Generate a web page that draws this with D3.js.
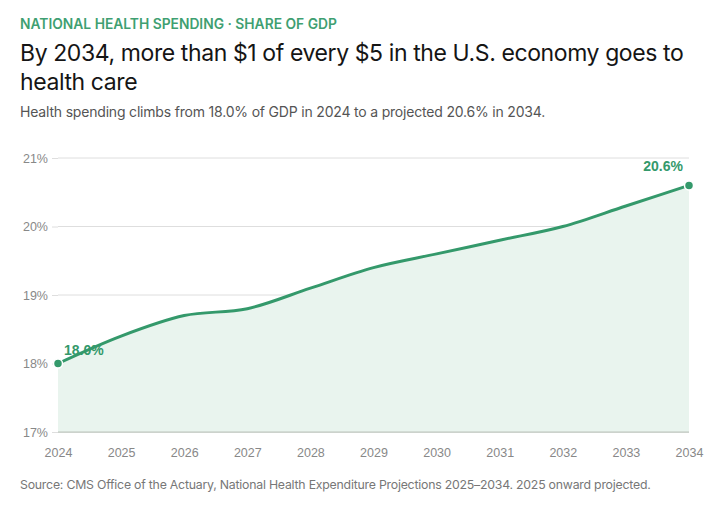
<!DOCTYPE html>
<html><head><meta charset="utf-8">
<script src="https://cdn.jsdelivr.net/npm/d3@7"></script>
<style>
body{margin:0;background:#fff;}
svg{display:block;}
</style></head>
<body><svg id="c" width="725" height="509"></svg>
<script>
const years = [2024,2025,2026,2027,2028,2029,2030,2031,2032,2033,2034];
const shareOfGdp = [18.0,18.4,18.7,18.8,19.1,19.4,19.6,19.8,20.0,20.3,20.6];
const yTicks = [17,18,19,20,21];

const green = "#34996b";
const svg = d3.select("#c");
const margin = {left:58, right:36, top:158, bottom:77};
const W = 725, H = 509;
const x = d3.scaleLinear().domain([2024,2034]).range([margin.left, W - margin.right]);
const y = d3.scaleLinear().domain([17,21]).range([H - margin.bottom, margin.top]);
const data = years.map((yr,i)=>({yr, v:shareOfGdp[i]}));

const sans = "'Inter','Roboto','Noto Sans',sans-serif";
const arial = "'Liberation Sans',Arial,sans-serif";

svg.append("text").attr("x",20).attr("y",29).text("NATIONAL HEALTH SPENDING · SHARE OF GDP")
  .attr("font-family",sans).attr("font-size",13.8).attr("font-weight",600).attr("fill","#3f9f72");
const t = svg.append("text").attr("font-family",sans).attr("font-size",23).attr("letter-spacing",-0.4).attr("fill","#151515").attr("font-weight",400);
t.append("tspan").attr("x",20).attr("y",61).text("By 2034, more than $1 of every $5 in the U.S. economy goes to");
t.append("tspan").attr("x",20).attr("y",90).text("health care");
svg.append("text").attr("x",20).attr("y",117).text("Health spending climbs from 18.0% of GDP in 2024 to a projected 20.6% in 2034.")
  .attr("font-family",sans).attr("font-size",14).attr("letter-spacing",-0.19).attr("fill","#555");

// grid
const g = svg.append("g");
g.selectAll("line.grid").data(yTicks).join("line")
  .attr("x1",x(2024)).attr("x2",x(2034)).attr("y1",d=>y(d)).attr("y2",d=>y(d))
  .attr("stroke",d=>d===17?"#bcc4bc":"#dedede").attr("stroke-width",1);
// y axis
const ya = svg.append("g").attr("transform",`translate(${x(2024)},0)`)
  .call(d3.axisLeft(y).tickValues(yTicks).tickSize(6).tickPadding(4).tickFormat(d=>d+"%"));
ya.select(".domain").remove();
ya.selectAll(".tick line").attr("stroke","#dedede");
ya.selectAll("text").attr("font-family",arial).attr("font-size",12.5).attr("fill","#888");
// x axis
const xa = svg.append("g").attr("transform",`translate(0,${y(17)})`)
  .call(d3.axisBottom(x).tickValues(years).tickSize(0).tickPadding(16).tickFormat(d3.format("d")));
xa.select(".domain").remove();
xa.selectAll("text").attr("font-family",arial).attr("font-size",12.5).attr("fill","#888");

// area + line
const curve = d3.curveMonotoneX;
svg.append("path").datum(data)
  .attr("d", d3.area().x(d=>x(d.yr)).y0(y(17)).y1(d=>y(d.v)).curve(curve))
  .attr("fill","#e9f4ee");
svg.append("line").attr("x1",x(2024)).attr("x2",x(2034)).attr("y1",y(17)).attr("y2",y(17)).attr("stroke","#bcc4bc");
svg.append("path").datum(data)
  .attr("d", d3.line().x(d=>x(d.yr)).y(d=>y(d.v)).curve(curve))
  .attr("fill","none").attr("stroke",green).attr("stroke-width",3).attr("stroke-linejoin","round").attr("stroke-linecap","round");

const ends = [data[0], data[data.length-1]];
svg.selectAll("circle.end").data(ends).join("circle")
  .attr("cx",d=>x(d.yr)).attr("cy",d=>y(d.v)).attr("r",4.5)
  .attr("fill",green).attr("stroke","#fff").attr("stroke-width",1.5);
svg.append("text").attr("x",x(2024)+6).attr("y",y(18.0)-9).text(shareOfGdp[0].toFixed(1)+"%")
  .attr("font-family",arial).attr("font-weight",700).attr("font-size",14).attr("fill",green);
svg.append("text").attr("x",x(2034)-6).attr("y",y(20.6)-14).attr("text-anchor","end").text(shareOfGdp[10].toFixed(1)+"%")
  .attr("font-family",arial).attr("font-weight",700).attr("font-size",14).attr("fill",green);

svg.append("text").attr("x",20).attr("y",489).text("Source: CMS Office of the Actuary, National Health Expenditure Projections 2025–2034. 2025 onward projected.")
  .attr("font-family",sans).attr("font-size",12.3).attr("letter-spacing",-0.22).attr("fill","#777");
</script></body></html>
